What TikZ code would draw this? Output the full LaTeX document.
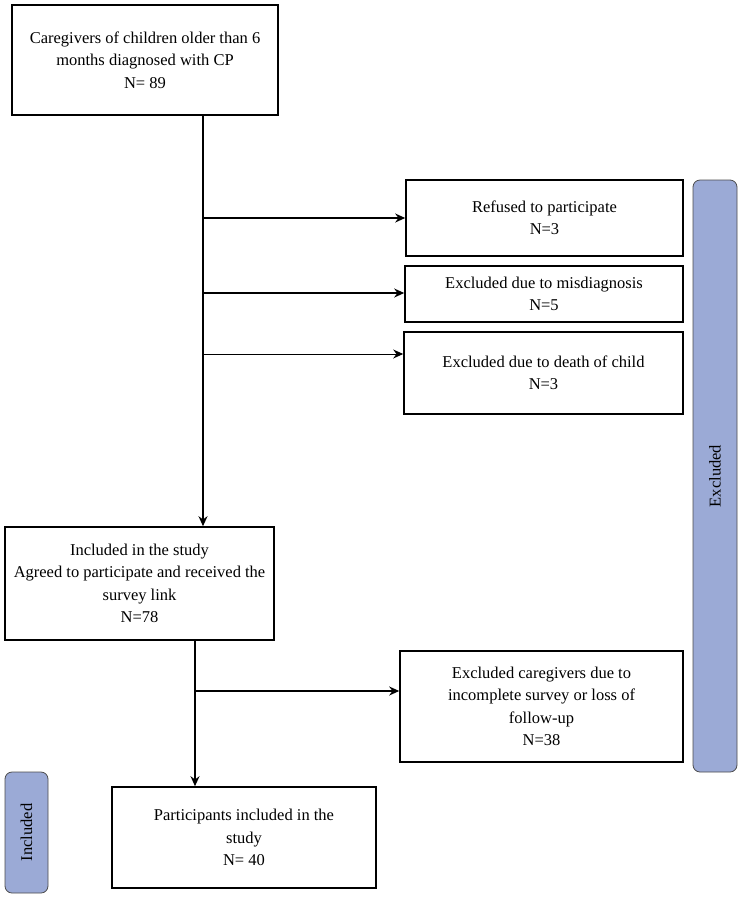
\documentclass[tikz,border=0pt]{standalone}
\usepackage{fontspec}
\setmainfont{Liberation Serif}
\usetikzlibrary{arrows.meta}
\definecolor{barblue}{RGB}{155,170,214}
\begin{document}
\begin{tikzpicture}[x=1pt,y=-1pt,
 box/.style={draw,line width=1.6pt,align=center,font=\fontsize{16.5}{22.5}\selectfont,inner sep=0pt},
 bar/.style={draw=black!70,fill=barblue,rounded corners=7pt,line width=0.8pt},
 arr/.style={line width=1.6pt,-{Stealth[length=10pt,width=9pt]}}]
\useasboundingbox (0,0) rectangle (740,898);
\node[box,minimum width=266,minimum height=110] (top) at (145,60) {Caregivers of children older than 6\\months diagnosed with CP\\N= 89};
\node[box,minimum width=277,minimum height=76] (ref) at (544.5,218) {Refused to participate\\N=3};
\node[box,minimum width=278,minimum height=56] (mis) at (544,294) {Excluded due to misdiagnosis\\N=5};
\node[box,minimum width=279,minimum height=82] (dea) at (543.5,373) {Excluded due to death of child\\N=3};
\node[box,minimum width=269,minimum height=113] (inc) at (139.5,583.5) {Included in the study\\Agreed to participate and received the\\survey link\\N=78};
\node[box,minimum width=283,minimum height=111] (exc) at (541.5,706.5) {Excluded caregivers due to\\incomplete survey or loss of\\follow-up\\N=38};
\node[box,minimum width=264,minimum height=101] (par) at (244,837.5) {Participants included in the\\study\\N= 40};
\coordinate (t1) at (203,115);
\coordinate (j1) at (203,218); \coordinate (j2) at (203,293); \coordinate (j3) at (203,354);
\draw[arr] (t1) -- (inc.north -| t1);
\draw[arr] (j1) -- (j1 -| ref.west);
\draw[arr] (j2) -- (j2 -| mis.west);
\draw[arr,line width=1pt] (j3) -- (j3 -| dea.west);
\coordinate (t2) at (195,640); \coordinate (j4) at (195,691);
\draw[arr] (t2) -- (par.north -| t2);
\draw[arr] (j4) -- (j4 -| exc.west);
\node[bar,minimum width=44,minimum height=592,inner sep=0pt] (bx) at (715,476) {};
\node[rotate=90,font=\fontsize{16.5}{18}\selectfont] at (bx) {Excluded};
\node[bar,minimum width=43,minimum height=121,inner sep=0pt] (bi) at (26.5,832.5) {};
\node[rotate=90,font=\fontsize{16.5}{18}\selectfont] at (bi) {Included};
\end{tikzpicture}
\end{document}
